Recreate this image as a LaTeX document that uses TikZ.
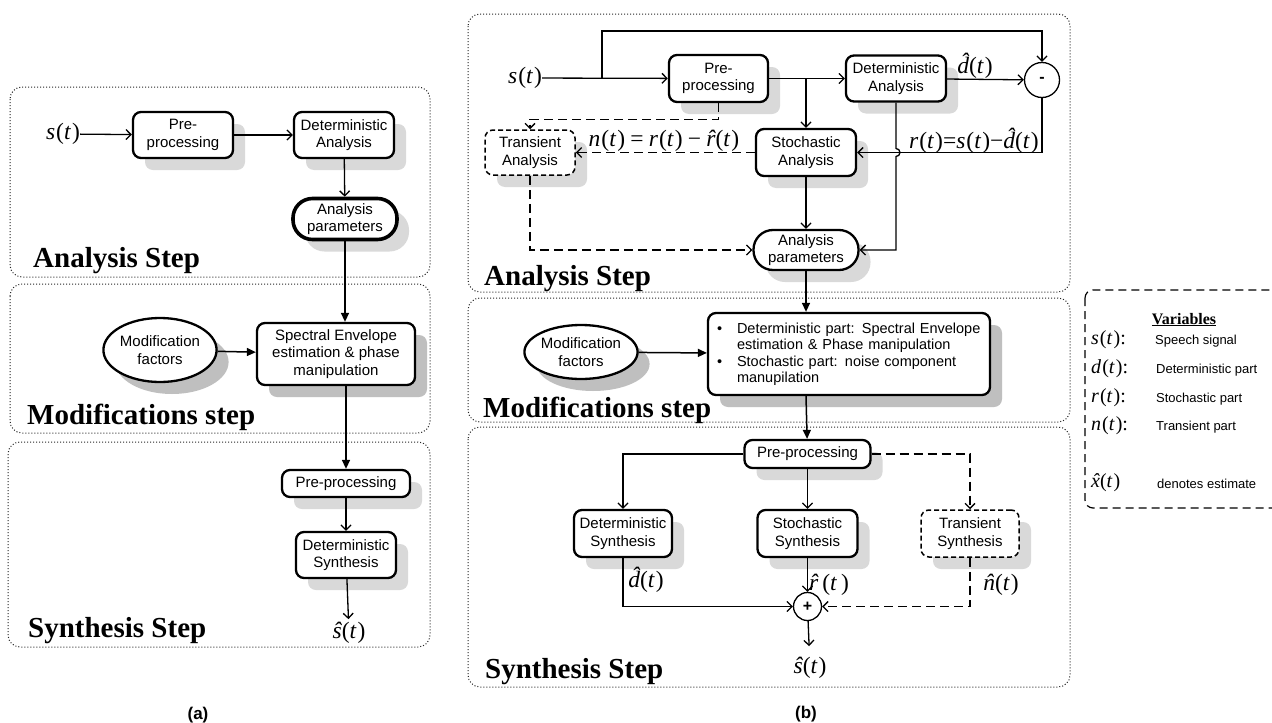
\documentclass[tikz,border=0pt]{standalone}
\usepackage{fontspec}
\setmainfont{Liberation Sans}
\newfontfamily\tms{Liberation Serif}
\usetikzlibrary{arrows.meta,shapes.geometric}
\definecolor{shl}{HTML}{D9D9D9}
\definecolor{shd}{HTML}{BFBFBF}
\newcommand{\boxfont}{\fontsize{15}{17.5}\selectfont}
\newcommand{\mathfont}{\tms\fontsize{23.5}{25}\selectfont}
\newcommand{\varfont}{\tms\fontsize{20}{22}\selectfont}
\newcommand{\titlefont}{\tms\bfseries\fontsize{29}{32}\selectfont}
\newcommand{\vfn}[2]{\textit{#1}\kern1pt(\textit{#2}\kern1pt)}
\newcommand{\vhat}[1]{\textit{\accent"02C6 #1}}
\newcommand{\mns}{\char"2212\relax}
\newcommand{\bul}{\makebox[20pt][l]{\textbullet}}
\newcommand{\ind}{\hspace*{20pt}}
\tikzset{
  box/.style={draw, line width=2.3pt, rounded corners=8pt, fill=white, align=center, font=\boxfont, inner sep=0pt},
  tbox/.style={draw, line width=1.5pt, dash pattern=on 5pt off 3pt, rounded corners=8pt, fill=white, align=center, font=\boxfont, inner sep=0pt},
  stad/.style={draw, line width=2.3pt, rounded corners=19.5pt, fill=white, align=center, font=\boxfont, inner sep=0pt},
  ell/.style={ellipse, draw, line width=2.3pt, fill=white, align=center, font=\boxfont, inner sep=0pt},
  shadl/.style={preaction={fill=shl, draw=none, transform canvas={shift={(12pt,-12pt)}}}},
  shadd/.style={preaction={fill=shd, draw=none, transform canvas={shift={(12pt,-12pt)}}}},
  panel/.style={draw=black!85, line width=1pt, dash pattern=on 1pt off 2pt, rounded corners=12pt},
  oa/.style={-{Straight Barb[length=5pt,width=10pt]}, line width=1.3pt},
  fa/.style={-{Triangle[length=9pt,width=8pt]}, line width=1.5pt},
  dsh/.style={dash pattern=on 9pt off 5pt},
  ttl/.style={font=\titlefont, anchor=base west, inner sep=0pt},
  mth/.style={font=\mathfont, inner sep=0pt},
  sumc/.style={circle, draw, line width=1.3pt, fill=white, inner sep=0pt, font=\bfseries\fontsize{16}{16}\selectfont},
  caplbl/.style={font=\bfseries\fontsize{17}{19}\selectfont, inner sep=0pt},
  vtxt/.style={font=\fontsize{13}{15}\selectfont, anchor=west, inner sep=0pt},
  vmath/.style={font=\varfont, anchor=west, inner sep=0pt}
}
\begin{document}
\begin{tikzpicture}[x=1pt,y=-1pt]
\useasboundingbox (0,0) rectangle (1272,723);
\fill[white] (0,0) rectangle (1272,723);

% ================= panel (a) =================
\draw[panel] (10,87) rectangle (430,277);
\draw[panel] (10,284) rectangle (430,433);
\draw[panel] (8,442) rectangle (430,647);

\node[ttl] (tA1) at (33,267) {Analysis Step};
\node[ttl] (tA2) at (27,424) {Modifications step};
\node[ttl] (tA3) at (28,637) {Synthesis Step};
\node[caplbl] (capA) at (198,715) {(a)};

\node[mth] (sA) at (63,134) {\vfn{s}{t}};
\node[box, shadl, minimum width=100pt, minimum height=46pt] (preA) at (183,135) {Pre-\\processing};
\node[box, shadl, minimum width=100pt, minimum height=46pt] (detA) at (344,135) {Deterministic\\Analysis};
\node[stad, shadl, line width=3.6pt, minimum width=104pt, minimum height=41pt] (parA) at (345,219) {Analysis\\parameters};
\node[ell, shadd, minimum width=96pt, minimum height=64pt] (modA) at (160,350) {Modification\\factors};
\node[box, shadd, minimum width=158pt, minimum height=62pt] (specA) at (336,354) {Spectral Envelope\\estimation \& phase\\manipulation};
\node[box, shadl, minimum width=128pt, minimum height=27pt] (preSA) at (346,483.5) {Pre-processing};
\node[box, shadl, minimum width=100pt, minimum height=46pt] (detSA) at (346,555) {Deterministic\\Synthesis};
\node[mth] (shA) at (349,633) {\vhat{s}(\textit{t}\kern1pt)};

\draw[oa] (sA) -- (preA);
\draw[oa] (preA) -- (detA);
\draw[oa] (detA) -- (parA);
\draw[fa] (parA.south) -- (parA.south |- specA.north);
\draw[fa] (modA) -- (specA);
\draw[fa] (preSA.north |- specA.south) -- (preSA.north);
\draw[oa] (preSA) -- (detSA);
\draw[oa, shorten >=3pt] (detSA) -- (shA);

% ================= panel (b) =================
\draw[panel] (468,14) rectangle (1070,292);
\draw[panel] (468,298) rectangle (1070,422);
\draw[panel] (468,427) rectangle (1070,687);

\node[ttl] (tB1) at (484,285) {Analysis Step};
\node[ttl] (tB2) at (483,417) {Modifications step};
\node[ttl] (tB3) at (485,678) {Synthesis Step};
\node[caplbl] (capB) at (806,714) {(b)};

\node[mth] (sB) at (525,78) {\vfn{s}{t}};
\node[box, shadl, minimum width=99pt, minimum height=47pt] (preB) at (718.5,78.5) {Pre-\\processing};
\node[box, shadl, minimum width=100pt, minimum height=46pt] (detB) at (896,78.5) {Deterministic\\Analysis};
\node[sumc, minimum size=35pt] (minus) at (1042,80) {-};
\node[box, shadl, minimum width=100pt, minimum height=47pt] (stoB) at (806,152.5) {Stochastic\\Analysis};
\node[tbox, shadl, minimum width=90pt, minimum height=45pt] (tranA) at (530,152.5) {Transient\\Analysis};
\node[stad, shadl, minimum width=105pt, minimum height=40pt] (parB) at (806,250) {Analysis\\parameters};
\node[mth] (dhB) at (975,66) {\vhat{d}(\textit{t}\kern1pt)};
\node[mth] (eqn) at (664,141) {\vfn{n}{t}\:=\:\vfn{r}{t}\:\mns\:\vhat{r}(\textit{t}\kern1pt)};
\node[mth] (eqr) at (974,141) {\vfn{r}{t}=\vfn{s}{t}\mns\vhat{d}(\textit{t}\kern1pt)};

\coordinate (fb) at (602,78);
\draw[oa] (sB) -- (preB);
\draw[oa] (fb) -- ++(0,-47) -| (minus.north);
\draw[oa] (preB) -- (detB);
\draw[oa] (stoB.north |- detB.west) -- (stoB.north);
\draw[oa] (detB) -- (minus);
\draw[oa] (minus.south) |- (stoB.east);
\coordinate (hop) at (detB.south |- stoB.east);
\draw[oa] (detB.south) -- ([yshift=4pt]hop) arc[start angle=-90, end angle=90, radius=4] |- (parB.east);
\draw[oa] (stoB) -- (parB);
\draw[oa, dsh] (preB.south) -- ++(0,16) -| (tranA.north);
\draw[oa, dsh] (stoB.west) -- (tranA.east);
\draw[oa, dsh] (tranA.south) |- (parB.west);

\node[ell, shadd, minimum width=98pt, minimum height=54pt] (modB) at (581,352) {Modification\\factors};
\node[box, shadd, minimum width=282pt, minimum height=82pt, text width=264pt, align=left, font=\fontsize{14.5}{16.5}\selectfont] (mbB) at (849,354)
 {\bul Deterministic part: Spectral Envelope\\\ind estimation \& Phase manipulation\\\bul Stochastic part: noise component\\\ind manupilation};
\draw[fa] (parB) -- (parB |- mbB.north);
\draw[fa] (modB) -- (mbB);

\node[box, shadl, minimum width=126pt, minimum height=28pt] (preSB) at (807.5,454) {Pre-processing};
\draw[fa] (parB |- mbB.south) -- (preSB);
\node[box, shadl, minimum width=98pt, minimum height=47pt] (detSB) at (623,533.5) {Deterministic\\Synthesis};
\node[box, shadl, minimum width=100pt, minimum height=47pt] (stoSB) at (807.5,533.5) {Stochastic\\Synthesis};
\node[tbox, shadl, minimum width=98pt, minimum height=47pt] (traSB) at (970,533.5) {Transient\\Synthesis};
\node[sumc, minimum size=28pt] (plus) at (807.5,606.5) {+};
\node[mth] (dhS) at (646,580) {\vhat{d}(\textit{t}\kern1pt)};
\node[mth] (rhS) at (829,585) {\vhat{r}\,(\textit{t}\,)};
\node[mth] (nhS) at (1001,585) {\vhat{n}(\textit{t}\kern1pt)};
\node[mth] (shB) at (810,668) {\vhat{s}(\textit{t}\kern1pt)};

\draw[oa] (preSB.west) -| (detSB.north);
\draw[oa] (preSB) -- (stoSB);
\draw[oa, dsh] (preSB.east) -| (traSB.north);
\draw[oa] (detSB.south) |- (plus.west);
\draw[oa] (stoSB) -- (plus);
\draw[oa, dsh] (traSB.south) |- (plus.east);
\draw[oa, shorten >=11pt] (plus) -- (shB);

% ================= variables =================
\draw[line width=1.2pt, dash pattern=on 8pt off 5pt, rounded corners=8pt] (1085,290) rectangle (1300,508);
\node[font=\tms\bfseries\fontsize{16}{18}\selectfont, anchor=base, inner sep=0pt] (vt) at (1184,324) {\underline{Variables}};
\node[vmath] (v1) at (1091,340) {\vfn{s}{t}:};
\node[vtxt] (v1t) at (1155,341) {Speech signal};
\node[vmath] (v2) at (1091,369) {\vfn{d}{t}:};
\node[vtxt] (v2t) at (1156,370) {Deterministic part};
\node[vmath] (v3) at (1091,398) {\vfn{r}{t}:};
\node[vtxt] (v3t) at (1156,399) {Stochastic part};
\node[vmath] (v4) at (1091,426) {\vfn{n}{t}:};
\node[vtxt] (v4t) at (1156,427) {Transient part};
\node[vmath] (v5) at (1091,483) {\vhat{x}(\textit{t}\kern1pt)};
\node[vtxt] (v5t) at (1157,484) {denotes estimate};
\end{tikzpicture}
\end{document}
